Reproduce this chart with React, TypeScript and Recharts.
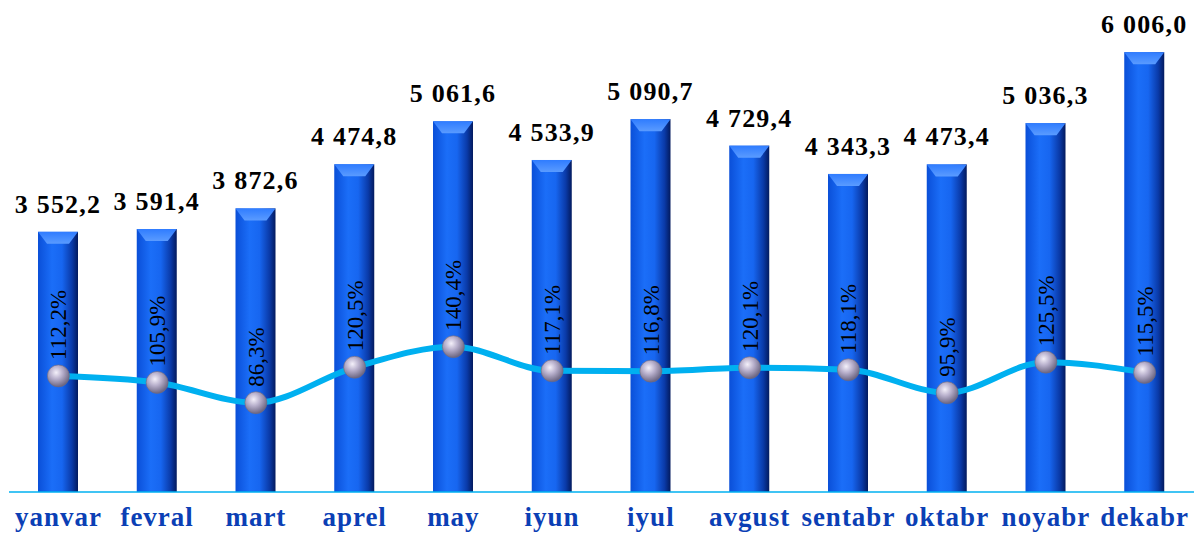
import { ComposedChart, Bar, Line, XAxis, YAxis, LabelList } from 'recharts'

const months = ['yanvar', 'fevral', 'mart', 'aprel', 'may', 'iyun', 'iyul', 'avgust', 'sentabr', 'oktabr', 'noyabr', 'dekabr']
const volumes = [3552.2, 3591.4, 3872.6, 4474.8, 5061.6, 4533.9, 5090.7, 4729.4, 4343.3, 4473.4, 5036.3, 6006.0]
const growth = [112.2, 105.9, 86.3, 120.5, 140.4, 117.1, 116.8, 120.1, 118.1, 95.9, 125.5, 115.5]

const data = months.map((m, i) => ({ month: m, volume: volumes[i], growth: growth[i] }))

const SERIF = '"Liberation Serif", "Times New Roman", serif'

// 3552.2 -> "3 552,2"
function fmtVolume(v: number) {
  const [int, dec] = v.toFixed(1).split('.')
  return int.replace(/\B(?=(\d{3})+(?!\d))/g, ' ') + ',' + dec
}

function BarShape(props: any) {
  const { x, y, width, height } = props
  if (height <= 0) return null
  const bev = 12
  return (
    <g>
      <rect x={x} y={y} width={width} height={height} fill="url(#barBody)" />
      <polygon
        points={`${x},${y} ${x + width},${y} ${x + width - 9},${y + bev} ${x + 9},${y + bev}`}
        fill="url(#barTop)"
      />
    </g>
  )
}

// sphere marker + rotated percentage label above it
function renderDot(props: any) {
  const { cx, cy, payload, index } = props
  if (cx == null || cy == null) return <g key={index} />
  const ty = cy - 16
  return (
    <g key={index}>
      <circle cx={cx} cy={cy} r={11} fill="url(#sphere)" stroke="#6e6a80" strokeWidth={0.6} />
      <text
        x={cx}
        y={ty}
        transform={`rotate(-90 ${cx} ${ty})`}
        dy={8}
        textAnchor="start"
        fontFamily={SERIF}
        fontSize={23}
        fill="#000"
        stroke="none"
      >
        {payload.growth.toFixed(1).replace('.', ',') + '%'}
      </text>
    </g>
  )
}

function renderValueLabel(props: any) {
  const { x, y, width, value } = props
  return (
    <text x={x + width / 2} y={y - 19} textAnchor="middle" fontFamily={SERIF} fontWeight="bold"
      fontSize={26} letterSpacing={1.2} fill="#000">
      {fmtVolume(value)}
    </text>
  )
}

function MonthTick(props: any) {
  const { x, y, payload } = props
  return (
    <text x={x} y={y + 26} textAnchor="middle" fontFamily={SERIF} fontWeight="bold" fontSize={27}
      letterSpacing={1} style={{ fill: '#0b3fb5' }}>
      {payload.value}
    </text>
  )
}

export default function App() {
  return (
    <div style={{ position: 'absolute', left: 0, top: 0, width: 1200, height: 534, background: '#fff' }}>
      <ComposedChart width={1200} height={534} data={data} margin={{ top: 16, right: 6, bottom: 2, left: 9 }}>
        <defs>
          <linearGradient id="barBody" x1="0" y1="0" x2="1" y2="0">
            <stop offset="0%" stopColor="#0a4fd8" />
            <stop offset="35%" stopColor="#1b6ef8" />
            <stop offset="60%" stopColor="#1766f0" />
            <stop offset="85%" stopColor="#0a3aa8" />
            <stop offset="100%" stopColor="#031a5e" />
          </linearGradient>
          <linearGradient id="barTop" x1="0" y1="0" x2="0" y2="1">
            <stop offset="0%" stopColor="#2f7cff" />
            <stop offset="100%" stopColor="#5a9bff" />
          </linearGradient>
          <radialGradient id="sphere" cx="40%" cy="35%" r="65%">
            <stop offset="0%" stopColor="#f4f0fa" />
            <stop offset="45%" stopColor="#b8b0cc" />
            <stop offset="100%" stopColor="#6c6682" />
          </radialGradient>
        </defs>
        <XAxis
          dataKey="month"
          axisLine={{ stroke: '#00b0f0', strokeWidth: 1.5 }}
          tickLine={false}
          tick={<MonthTick />}
          height={40}
          interval={0}
        />
        <YAxis yAxisId="v" hide domain={[0, 6500]} />
        <YAxis yAxisId="p" hide orientation="right" domain={[0, 460]} />
        <Bar yAxisId="v" dataKey="volume" barSize={40} shape={<BarShape />} isAnimationActive={false}>
          <LabelList dataKey="volume" content={renderValueLabel} />
        </Bar>
        <Line
          yAxisId="p"
          dataKey="growth"
          type="monotone"
          stroke="#00b0f0"
          strokeWidth={6}
          dot={renderDot}
          activeDot={false}
          isAnimationActive={false}
        />
      </ComposedChart>
    </div>
  )
}
